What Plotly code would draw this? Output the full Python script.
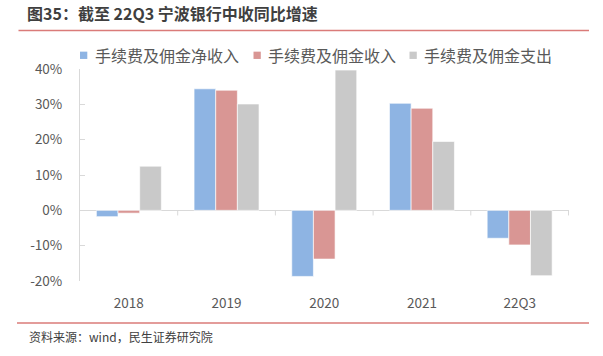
import plotly.graph_objects as go

categories = ["2018", "2019", "2020", "2021", "22Q3"]
series_names = ["手续费及佣金净收入", "手续费及佣金收入", "手续费及佣金支出"]
net_income = [-1.8, 34.4, -18.7, 30.3, -7.9]
gross_income = [-0.8, 34.0, -13.8, 28.9, -9.8]
expense = [12.5, 30.1, 39.7, 19.5, -18.5]
y_ticks = [-20, -10, 0, 10, 20, 30, 40]
y_tick_labels = ["-20%", "-10%", "0%", "10%", "20%", "30%", "40%"]

colors = ["#8EB4E3", "#D99694", "#C9C9C9"]
title_text = "图35：截至 22Q3 宁波银行中收同比增速"
source_text = "资料来源：wind，民生证券研究院"

W, H = 603, 356
ML, MR, MT, MB = 80, 34, 69, 75
pw, ph = W - ML - MR, H - MT - MB

def px_x(x):
    return (x - ML) / pw

def px_y(y):
    return (H - MB - y) / ph

font_cjk = "Noto Sans CJK SC, Noto Sans, sans-serif"
rule_color = "#DA7B79"

fig = go.Figure()
for name, vals, col in zip(series_names, [net_income, gross_income, expense], colors):
    fig.add_trace(go.Bar(
        x=categories, y=vals, name=name, marker_color=col,
        marker_line_color="rgba(255,255,255,0.8)", marker_line_width=0.8,
        showlegend=False,
    ))

shapes = []
# decorative red rule above the source line
shapes.append(dict(type="line", xref="paper", yref="paper",
                   x0=px_x(17), x1=px_x(589), y0=px_y(323), y1=px_y(323),
                   line=dict(color=rule_color, width=1.3), layer="above"))
# category boundary ticks on the zero line
for i in range(len(categories)):
    shapes.append(dict(type="line", xref="x", yref="y", x0=i + 0.5, x1=i + 0.5,
                       y0=0, y1=-1.45,
                       line=dict(color="#D9D9D9", width=1)))

annotations = [dict(text=source_text, xref="paper", yref="paper",
                    x=px_x(27), xanchor="left", y=px_y(336), yanchor="middle",
                    showarrow=False, font=dict(size=12, color="#404040"))]

# decorative red rule under the title, drawn as a headless annotation arrow
annotations.append(dict(text="", xref="paper", yref="paper",
                        x=px_x(589), y=px_y(30.5), ax=-(589 - 17), ay=0,
                        showarrow=True, arrowhead=0, arrowwidth=1.3,
                        arrowcolor=rule_color, standoff=0, startstandoff=0,
                        font=dict(size=1)))

# legend (horizontal, top): square swatch + label
legend_text_x = [92.5, 266, 422]
legend_y = 55.3
sq = 7.3
for name, col, tx in zip(series_names, colors, legend_text_x):
    sx1 = tx - 5.2
    shapes.append(dict(type="rect", xref="paper", yref="paper",
                       x0=px_x(sx1 - sq), x1=px_x(sx1),
                       y0=px_y(legend_y - sq / 2), y1=px_y(legend_y + sq / 2),
                       fillcolor=col, line=dict(width=0)))
    annotations.append(dict(text=name, xref="paper", yref="paper",
                            x=px_x(tx), xanchor="left", y=px_y(legend_y), yanchor="middle",
                            showarrow=False, font=dict(size=16, color="#595959")))

fig.update_layout(
    width=W, height=H,
    margin=dict(l=ML, r=MR, t=MT, b=MB, autoexpand=False),
    paper_bgcolor="white", plot_bgcolor="white",
    barmode="group", bargap=0.335, bargroupgap=0,
    showlegend=False,
    font=dict(family=font_cjk, color="#595959", size=13),
    title=dict(text=title_text, xref="container", yref="container",
               x=27 / W, xanchor="left", y=1 - 14 / H, yanchor="middle",
               font=dict(family=font_cjk, size=16, color="#3F3F3F", weight="bold")),
    xaxis=dict(type="category", showline=False, ticks="", showgrid=False,
               zeroline=False, ticklabelstandoff=12,
               tickfont=dict(size=13.5, color="#595959")),
    yaxis=dict(range=[-20, 40], tickvals=y_ticks, ticktext=y_tick_labels,
               showgrid=False, zeroline=True, zerolinecolor="#D9D9D9", zerolinewidth=1,
               showline=True, linecolor="#D9D9D9", linewidth=1,
               ticks="inside", ticklen=5, tickcolor="#D9D9D9",
               ticklabelstandoff=14,
               tickfont=dict(size=13.5, color="#595959")),
    shapes=shapes,
    annotations=annotations,
)

fig.write_html("out.html", config={"displayModeBar": False},
               post_script="document.body.style.margin='0px';")
